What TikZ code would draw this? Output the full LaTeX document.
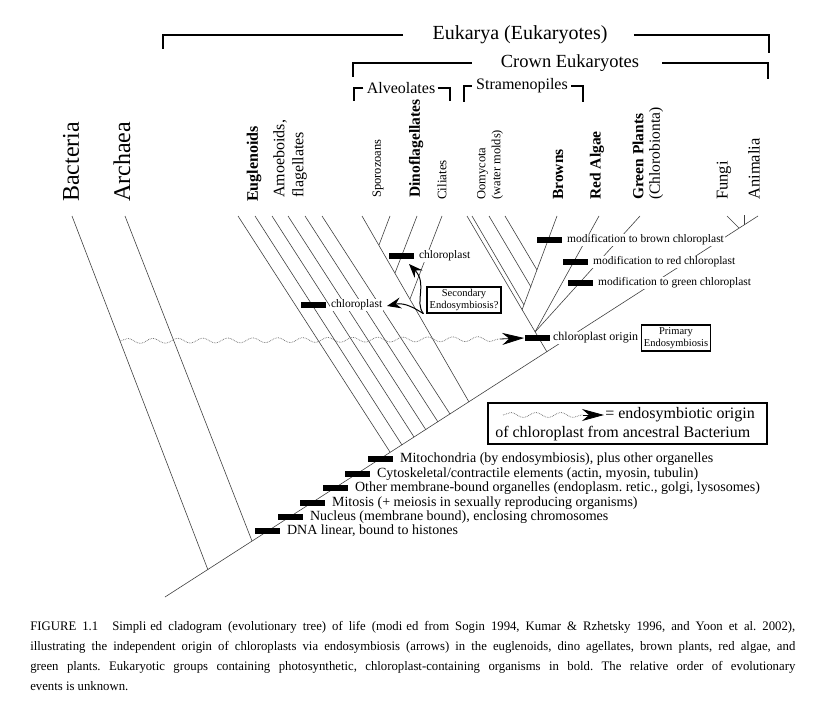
\documentclass[tikz,border=0pt]{standalone}
\usepackage{fontspec}
\setmainfont{Liberation Serif}
\newfontfamily\capfont[FakeStretch=0.98]{Liberation Serif}
\usepackage{tikz}
\usetikzlibrary{arrows.meta,positioning,decorations.pathmorphing}
\newcommand{\fsz}[2]{\fontsize{#1}{#2}\selectfont}
\frenchspacing

\begin{document}
\begin{tikzpicture}[x=1pt,y=-1pt,>={Stealth},semithick]
  \tikzstyle{branch}=[color=black!75,line width=0.6pt]
  \tikzstyle{taxon}=[rotate=90,anchor=west,inner sep=0pt,align=left]
  \tikzstyle{cbar}=[fill=black,draw=none,minimum width=25pt,minimum height=5.5pt,inner sep=0pt]
  \tikzstyle{lab}=[fill=white,inner sep=1pt,font=\fsz{11.5}{13}]
  \tikzstyle{evt}=[inner sep=1pt,font=\fsz{14}{16}]
  \tikzstyle{brack}=[line width=2.6pt]
  \tikzstyle{clade}=[inner sep=1pt,font=\fsz{20}{22}]
  \tikzstyle{subclade}=[inner sep=1pt,font=\fsz{16}{18}]
  \tikzstyle{endo}=[draw,line width=1.3pt,fill=white,align=center,inner sep=2.5pt,font=\fsz{10.5}{11.5}]
  \tikzstyle{wavy}=[color=black!60,densely dotted,line width=0.7pt,decorate,decoration={snake,amplitude=2.5pt,segment length=25pt}]
  \tikzstyle{bigtip}=[-{Stealth[length=22pt,width=12pt,inset=7pt]},line width=0.8pt]
  \tikzstyle{smalltip}=[-{Stealth[length=14pt,width=11pt,inset=5pt]},line width=1pt]
  \tikzstyle{capline}=[anchor=west,inner sep=0pt,font=\capfont\fsz{13}{15}]

  \useasboundingbox (0,0) rectangle (825,706);

  % clades on top
  \node[clade] (euk) at (520,35) {Eukarya (Eukaryotes)};
  \draw[brack] ([xshift=-28pt]euk.west) -| (163,49);
  \draw[brack] ([xshift=25pt]euk.east) -| (769,53);
  \node[clade,font=\fsz{18.5}{20}] (crown) at (570,63) {Crown Eukaryotes};
  \draw[brack] ([xshift=-28pt]crown.west) -| (353,77);
  \draw[brack] ([xshift=22pt]crown.east) -| (768,79);
  \node[subclade] (alv) at (401,88) {Alveolates};
  \draw[brack] ([xshift=-2pt]alv.west) -| (354,101);
  \draw[brack] ([xshift=1pt]alv.east) -| (450,101);
  \node[subclade] (stram) at (522,86) {Stramenopiles};
  \draw[brack] ([xshift=-3pt]stram.west) -| (464,102);
  \draw[brack] ([xshift=2pt]stram.east) -| (583,102);

  % taxa
  \node[taxon,font=\fsz{24}{26}] (bac) at (71,202) {Bacteria};
  \node[taxon,font=\fsz{24}{26}] (arc) at (122,202) {Archaea};
  \node[taxon,font=\bfseries\fsz{16}{17}] (eug) at (254,202) {Euglenoids};
  \node[taxon,font=\fsz{16}{19}] (amo) at (290,198) {Amoeboids,\\flagellates};
  \node[taxon,font=\fsz{12.5}{13}] (spo) at (378,198) {Sporozoans};
  \node[taxon,font=\bfseries\fsz{15.5}{17}] (din) at (416,198) {Dinoflagellates};
  \node[taxon,font=\fsz{13}{14}] (cil) at (442,200) {Ciliates};
  \node[taxon,font=\fsz{12.5}{15}] (oom) at (490,200) {Oomycota\\(water molds)};
  \node[taxon,font=\bfseries\fsz{15.5}{17}] (bro) at (558,200) {Browns};
  \node[taxon,font=\bfseries\fsz{15.5}{17}] (red) at (597,200) {Red Algae};
  \node[taxon,font=\fsz{15.5}{16.5}] (gre) at (648,200) {\textbf{Green Plants}\\(Chlorobionta)};
  \node[taxon,font=\fsz{16.5}{17}] (fun) at (724,200) {Fungi};
  \node[taxon,font=\fsz{16.5}{17}] (ani) at (754,200) {Animalia};

  % tree
  \coordinate (M0) at (165,597);   \coordinate (M1) at (758,216);
  \coordinate (tBac) at (72,216);  \coordinate (bBac) at (208,570);
  \coordinate (tArc) at (125,216); \coordinate (bArc) at (252,541);
  \coordinate (tE1) at (238,216);  \coordinate (bE1) at (390,452);
  \coordinate (tE2) at (255,216);  \coordinate (bE2) at (402,445);
  \coordinate (tE3) at (272,216);  \coordinate (bE3) at (414,437);
  \coordinate (tE4) at (288,216);  \coordinate (bE4) at (426,430);
  \coordinate (tE5) at (305,216);  \coordinate (bE5) at (438,422);
  \coordinate (tE6) at (322,216);  \coordinate (bE6) at (450,414);
  \coordinate (tAlv) at (362,216); \coordinate (bAlv) at (469,402);
  \coordinate (tSpo) at (390,216); \coordinate (jSpo) at (379,245);
  \coordinate (tDin) at (417,216); \coordinate (jDin) at (395,273);
  \coordinate (tCil) at (442,216); \coordinate (jCil) at (410,299);
  \coordinate (tOo1) at (467,216); \coordinate (bStem) at (547,352);
  \coordinate (tOo2) at (472,216); \coordinate (jOo2) at (524,305);
  \coordinate (tOo3) at (489,216); \coordinate (jOo3) at (531,287);
  \coordinate (tOo4) at (505,216); \coordinate (jOo4) at (537,270);
  \coordinate (tBro) at (557,216); \coordinate (jBro) at (522,310);
  \coordinate (tRed) at (599,216); \coordinate (J0) at (535,332);
  \coordinate (tGre) at (640,216);
  \coordinate (tFun) at (727,216); \coordinate (bFun) at (739,228);
  \coordinate (tTck) at (744,215); \coordinate (bTck) at (744,225);

  \path[branch] (M0) edge (M1)
        (tBac) edge (bBac)
        (tArc) edge (bArc)
        (tE1) edge (bE1)
        (tE2) edge (bE2)
        (tE3) edge (bE3)
        (tE4) edge (bE4)
        (tE5) edge (bE5)
        (tE6) edge (bE6)
        (tAlv) edge (bAlv)
        (tSpo) edge (jSpo)
        (tDin) edge (jDin)
        (tCil) edge (jCil)
        (tOo1) edge (bStem)
        (tOo2) edge (jOo2)
        (tOo3) edge (jOo3)
        (tOo4) edge (jOo4)
        (tBro) edge (jBro)
        (tRed) edge (J0)
        (tGre) edge (J0)
        (tFun) edge (bFun)
        (tTck) edge (bTck);

  % endosymbiosis of the chloroplast
  \coordinate (wS) at (120,341);
  \coordinate (wA) at (500,339);
  \draw[wavy] (wS) -- (wA);

  % chloroplast events
  \node[cbar] (ori) at (537,338) {};
  \node[lab,font=\fsz{12}{13},right=2pt of ori] (oriL) {chloroplast origin};
  \draw[bigtip] (wA) -- (ori.west);
  \node[cbar] (broB) at (549,240) {};
  \node[lab,right=4pt of broB] (broL) {modification to brown chloroplast};
  \node[cbar] (redB) at (575,262) {};
  \node[lab,right=4pt of redB] (redL) {modification to red chloroplast};
  \node[cbar] (greB) at (580,283) {};
  \node[lab,right=4pt of greB] (greL) {modification to green chloroplast};
  \node[cbar] (eugB) at (313,305) {};
  \node[lab,right=4pt of eugB] (eugL) {chloroplast};
  \node[cbar] (dinB) at (401,256) {};
  \node[lab,right=4pt of dinB] (dinL) {chloroplast};

  \node[endo] (prim) at (676,338) {Primary\\Endosymbiosis};
  \node[endo] (sec) at (464,300) {Secondary\\Endosymbiosis?};
  \coordinate (dinT) at (409,264);
  \coordinate (eugT) at (387,306);
  \draw[smalltip] ([xshift=-3pt]sec.south west) .. controls (414,302) and (428,284) .. (dinT);
  \draw[smalltip] ([xshift=-3pt]sec.south west) .. controls (416,309) and (405,302) .. (eugT);

  % characters on the trunk
  \node[cbar] (mito) at (380,459) {};
  \node[evt,right=6pt of mito] (mitoL) {Mitochondria (by endosymbiosis), plus other organelles};
  \node[cbar] (cyto) at (357,474) {};
  \node[evt,right=6pt of cyto] (cytoL) {Cytoskeletal/contractile elements (actin, myosin, tubulin)};
  \node[cbar] (memb) at (335,488) {};
  \node[evt,right=6pt of memb] (membL) {Other membrane-bound organelles (endoplasm. retic., golgi, lysosomes)};
  \node[cbar] (mits) at (312,503) {};
  \node[evt,right=6pt of mits] (mitsL) {Mitosis (+ meiosis in sexually reproducing organisms)};
  \node[cbar] (nucl) at (290,517) {};
  \node[evt,right=6pt of nucl] (nuclL) {Nucleus (membrane bound), enclosing chromosomes};
  \node[cbar] (dna) at (267,531) {};
  \node[evt,right=6pt of dna] (dnaL) {DNA linear, bound to histones};

  % legend
  \node[draw,line width=1.3pt,minimum width=279pt,minimum height=41pt,inner sep=0pt] (leg) at (627.5,423.5) {};
  \node[anchor=west,inner sep=1pt,font=\fsz{16}{18}] (legA) at (604,415) {= endosymbiotic origin};
  \node[anchor=west,inner sep=1pt,font=\fsz{16}{18}] (legB) at (494,434) {of chloroplast from ancestral Bacterium};
  \coordinate (legS) at (503,415);
  \coordinate (legT) at (583,415);
  \draw[wavy] (legS) -- (legT);
  \draw[bigtip] (legT) -- (legA.west);

  % caption
  \node[capline] (cap1) at (30,627) {\makebox[765pt][s]{FIGURE 1.1\hspace{8pt} Simpli\kern4pt ed cladogram (evolutionary tree) of life (modi\kern4pt ed from Sogin 1994, Kumar \& Rzhetsky 1996, and Yoon et al. 2002),}};
  \node[capline] (cap2) at (30,647) {\makebox[765pt][s]{illustrating the independent origin of chloroplasts via endosymbiosis (arrows) in the euglenoids, dino\kern6pt agellates, brown plants, red algae, and}};
  \node[capline] (cap3) at (30,667) {\makebox[765pt][s]{green plants. Eukaryotic groups containing photosynthetic, chloroplast-containing organisms in bold. The relative order of evolutionary}};
  \node[capline] (cap4) at (30,686) {events is unknown.};
\end{tikzpicture}
\end{document}
